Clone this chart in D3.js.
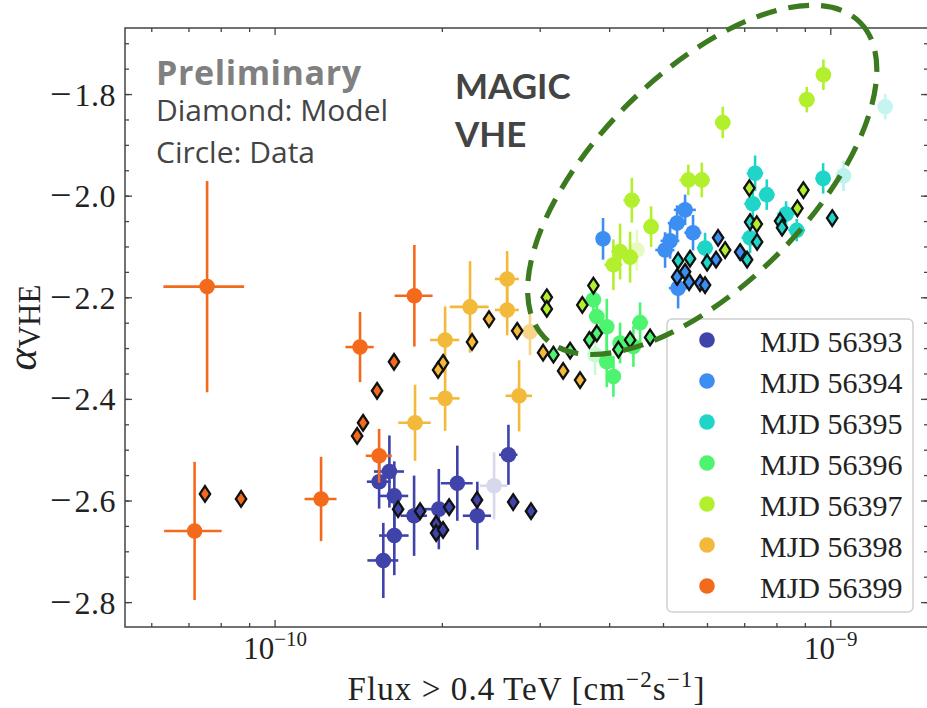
<!DOCTYPE html>
<html>
<head>
<meta charset="utf-8">
<script src="https://cdn.jsdelivr.net/npm/d3@7"></script>
<style>
  body { margin: 0; background: #fff; }
  svg { display: block; }
</style>
</head>
<body>
<svg id="chart" width="927" height="708"></svg>
<script>
// Flux values are given in units of 1e-10 cm^-2 s^-1
const FLUX_UNIT = 1e-10;

const days = ['MJD 56393', 'MJD 56394', 'MJD 56395', 'MJD 56396', 'MJD 56397', 'MJD 56398', 'MJD 56399'];
const dayColors = ['#3f43aa', '#3d8ef2', '#1fd5c8', '#4cf470', '#b2f02e', '#f3b93a', '#f46a1d'];

// Measured points: [flux, fluxErr, alpha, alphaErr, opacity]
const data56393 = [
  [2.63, 0.10, -2.509, 0.059], [2.128, 0.14, -2.565, 0.074], [2.478, 0.14, -2.570, 0.066, 0.2],
  [2.312, 0.135, -2.629, 0.067], [1.971, 0.115, -2.616, 0.079], [1.779, 0.097, -2.629, 0.079],
  [1.639, 0.097, -2.590, 0.068], [1.639, 0.10, -2.668, 0.078], [1.606, 0.10, -2.542, 0.071],
  [1.539, 0.076, -2.562, 0.053], [1.566, 0.10, -2.717, 0.074]
];
const data56394 = [
  [3.892, 0.10, -2.084, 0.041], [5.468, 0.25, -2.027, 0.03], [5.29, 0.2, -2.053, 0.035],
  [5.651, 0.2, -2.072, 0.035], [5.139, 0.2, -2.088, 0.035], [5.033, 0.2, -2.106, 0.035],
  [5.312, 0.2, -2.181, 0.04]
];
const data56395 = [
  [7.308, 0.25, -1.955, 0.035], [7.67, 0.25, -1.997, 0.03], [7.238, 0.25, -2.015, 0.03],
  [8.309, 0.3, -2.035, 0.025], [8.685, 0.3, -2.067, 0.022], [9.688, 0.3, -1.965, 0.03],
  [5.94, 0.2, -2.102, 0.03], [7.158, 0.25, -2.082, 0.03], [10.54, 0.3, -1.960, 0.03, 0.3],
  [12.53, 0.35, -1.824, 0.025, 0.25]
];
const data56396 = [
  [3.74, 0.12, -2.204, 0.03], [3.793, 0.12, -2.237, 0.04], [3.953, 0.12, -2.257, 0.055],
  [4.538, 0.15, -2.249, 0.04], [4.414, 0.15, -2.296, 0.04], [3.953, 0.12, -2.326, 0.05],
  [4.063, 0.12, -2.355, 0.04], [4.177, 0.12, -2.289, 0.04], [3.766, 0.12, -2.312, 0.04, 0.3]
];
const data56397 = [
  [9.699, 0.3, -1.761, 0.03], [9.054, 0.3, -1.810, 0.025], [6.392, 0.2, -1.855, 0.031],
  [5.542, 0.2, -1.968, 0.03], [5.86, 0.2, -1.968, 0.034], [4.385, 0.15, -2.008, 0.044],
  [4.75, 0.15, -2.060, 0.04], [4.177, 0.15, -2.109, 0.055], [4.063, 0.15, -2.135, 0.05],
  [4.354, 0.15, -2.120, 0.05], [4.477, 0.15, -2.106, 0.04, 0.3]
];
const data56398 = [
  [2.243, 0.18, -2.218, 0.09], [2.023, 0.122, -2.283, 0.066], [2.023, 0.125, -2.398, 0.064],
  [1.786, 0.12, -2.446, 0.075], [2.616, 0.13, -2.163, 0.055], [2.616, 0.13, -2.224, 0.05],
  [2.749, 0.15, -2.393, 0.07], [2.876, 0.08, -2.267, 0.046, 0.6]
];
const data56399 = [
  [0.7546, 0.125, -2.178, 0.208], [0.7165, 0.085, -2.659, 0.136], [1.21, 0.08, -2.596, 0.083],
  [1.422, 0.083, -2.297, 0.069], [1.781, 0.14, -2.196, 0.10], [1.539, 0.083, -2.511, 0.053]
];

// Model points: [flux, alpha]
const model56393 = [[1.665, -2.616], [1.824, -2.620], [1.949, -2.645], [1.949, -2.663], [2.006, -2.657],
  [2.057, -2.612], [2.309, -2.598], [2.682, -2.602], [2.888, -2.620]];
const model56394 = [[5.29, -2.159], [5.468, -2.149], [5.559, -2.169], [5.818, -2.171], [5.94, -2.175],
  [6.217, -2.125], [6.269, -2.082], [6.868, -2.110]];
const model56395 = [[5.312, -2.127], [5.582, -2.123], [5.99, -2.131], [7.07, -2.125], [7.158, -2.051],
  [7.369, -2.090], [8.105, -2.049], [8.172, -2.062], [10.06, -2.043]];
const model56396 = [[3.169, -2.312], [3.396, -2.304], [3.678, -2.283], [3.793, -2.270], [4.148, -2.302],
  [4.354, -2.283], [4.73, -2.278]];
const model56397 = [[3.74, -2.176], [3.572, -2.214], [3.083, -2.199], [3.083, -2.222], [6.454, -2.106],
  [7.136, -1.984], [8.928, -1.988], [8.708, -2.024], [7.359, -2.055]];
const model56398 = [[2.427, -2.242], [2.262, -2.287], [2.006, -2.328], [1.965, -2.342], [2.727, -2.265],
  [3.036, -2.308], [3.299, -2.344], [3.539, -2.362]];
const model56399 = [[0.748, -2.586], [0.8686, -2.596], [1.405, -2.472], [1.44, -2.446], [1.526, -2.383],
  [1.637, -2.326]];

const yTicks = [-2.8, -2.6, -2.4, -2.2, -2.0, -1.8];
const xMajorTicks = [1e-10, 1e-9];
const xDomain = [5.37e-11, 1.496e-9];
const yDomain = [-2.848, -1.669];

// Highlight ellipse: centre in data units
const ellipseCenter = [5.87, -1.968];

const dataSets = [data56393, data56394, data56395, data56396, data56397, data56398, data56399];
const modelSets = [model56393, model56394, model56395, model56396, model56397, model56398, model56399];

const series = days.map((name, i) => ({
  name, color: dayColors[i], data: dataSets[i], model: modelSets[i]
}));

// ---- layout ----
const svg = d3.select('#chart');
const plot = { left: 125, right: 928, top: 28, bottom: 627 };
const serif = '"Liberation Serif", "DejaVu Serif", serif';

const xScale = d3.scaleLog().domain(xDomain).range([plot.left, plot.right]);
const yScale = d3.scaleLinear().domain(yDomain).range([plot.bottom, plot.top]);

svg.append('defs').append('clipPath').attr('id', 'plot-clip')
  .append('rect')
  .attr('x', plot.left).attr('y', plot.top)
  .attr('width', plot.right - plot.left).attr('height', plot.bottom - plot.top);

// Minor ticks for log axis
let xMinorTicks = [];
[-11, -10, -9].forEach(e => {
  for (let m = 2; m <= 9; m++) {
    const v = m * Math.pow(10, e);
    if (v > xDomain[0] && v < xDomain[1]) xMinorTicks.push(v);
  }
});
let yMinorTicks = d3.range(-2.85, -1.65, 0.05).filter(v => v > yDomain[0] && v < yDomain[1]);

const tickGroup = svg.append('g').attr('class', 'ticks')
  .attr('stroke', '#444').attr('stroke-width', 1.3);

// Inward ticks on all four sides
const drawXTicks = (values, len) => {
  values.forEach(v => {
    const x = xScale(v);
    tickGroup.append('line').attr('x1', x).attr('x2', x).attr('y1', plot.bottom).attr('y2', plot.bottom - len);
    tickGroup.append('line').attr('x1', x).attr('x2', x).attr('y1', plot.top).attr('y2', plot.top + len);
  });
};
const drawYTicks = (values, len) => {
  values.forEach(v => {
    const y = yScale(v);
    tickGroup.append('line').attr('x1', plot.left).attr('x2', plot.left + len).attr('y1', y).attr('y2', y);
    tickGroup.append('line').attr('x1', plot.right).attr('x2', plot.right - len).attr('y1', y).attr('y2', y);
  });
};
drawXTicks(xMajorTicks, 7);
drawXTicks(xMinorTicks, 4);
drawYTicks(yTicks, 7);
drawYTicks(yMinorTicks, 4);

// Y tick labels: long math minus, then the magnitude
const fmt = d3.format('.1f');
const yLabels = svg.append('g').selectAll('text')
  .data(yTicks)
  .join('text')
  .attr('x', plot.left - 9)
  .attr('y', d => yScale(d) + 11)
  .attr('text-anchor', 'end')
  .attr('font-family', serif)
  .attr('font-size', 32)
  .attr('fill', '#222');
yLabels.append('tspan').attr('font-size', 38).attr('dy', 1).text(d => d < 0 ? '\u2212' : '');
yLabels.append('tspan').attr('dx', 3).attr('dy', -1).attr('letter-spacing', 0.5).text(d => fmt(Math.abs(d)));

// X tick labels (10^n)
const xLabels = svg.append('g').selectAll('text')
  .data(xMajorTicks)
  .join('text')
  .attr('x', d => xScale(d))
  .attr('y', 659)
  .attr('text-anchor', 'middle')
  .attr('font-family', serif)
  .attr('font-size', 31)
  .attr('fill', '#222');
xLabels.append('tspan').text('10');
xLabels.append('tspan').attr('font-size', 21).attr('dy', -13)
  .text(d => '\u2212' + Math.round(-Math.log10(d)));

// Axis titles
const xTitle = svg.append('text')
  .attr('x', (plot.left + plot.right) / 2)
  .attr('y', 700)
  .attr('text-anchor', 'middle')
  .attr('font-family', serif)
  .attr('font-size', 33)
  .attr('letter-spacing', 1.1)
  .attr('fill', '#222');
xTitle.append('tspan').text('Flux > 0.4\u2009TeV [cm');
xTitle.append('tspan').attr('font-size', 23).attr('dy', -13).text('\u22122');
xTitle.append('tspan').attr('dy', 13).text('s');
xTitle.append('tspan').attr('font-size', 23).attr('dy', -13).text('\u22121');
xTitle.append('tspan').attr('dy', 13).text(']');

const yTitle = svg.append('text')
  .attr('transform', `translate(36, ${(plot.top + plot.bottom) / 2}) rotate(-90)`)
  .attr('text-anchor', 'middle')
  .attr('font-family', serif)
  .attr('font-size', 42)
  .attr('fill', '#222');
yTitle.append('tspan').attr('font-style', 'italic').text('\u03b1');
yTitle.append('tspan').attr('font-size', 31).attr('dy', 4).text('VHE');

// ---- data marks ----
const content = svg.append('g').attr('clip-path', 'url(#plot-clip)');

// Step 1: measured points with error bars (bars under markers)
series.forEach(s => {
  const g = content.append('g').attr('class', 'data-group');
  const pts = s.data.map(d => ({
    x: d[0] * FLUX_UNIT, xe: d[1] * FLUX_UNIT, y: d[2], ye: d[3], op: d[4] === undefined ? 1 : d[4]
  }));

  const pg = g.selectAll('g.point')
    .data(pts)
    .join('g')
    .attr('class', 'point')
    .attr('opacity', d => d.op);

  pg.append('line')
    .attr('x1', d => xScale(d.x - d.xe)).attr('x2', d => xScale(d.x + d.xe))
    .attr('y1', d => yScale(d.y)).attr('y2', d => yScale(d.y))
    .attr('stroke', s.color).attr('stroke-width', 2.6);

  pg.append('line')
    .attr('x1', d => xScale(d.x)).attr('x2', d => xScale(d.x))
    .attr('y1', d => yScale(d.y - d.ye)).attr('y2', d => yScale(d.y + d.ye))
    .attr('stroke', s.color).attr('stroke-width', 2.6);

  pg.append('circle')
    .attr('cx', d => xScale(d.x))
    .attr('cy', d => yScale(d.y))
    .attr('r', 7.8)
    .attr('fill', s.color);
});

// Step 2: model points as thin diamonds with black edges
const diamondPath = 'M0,-7.8 L5.2,0 L0,7.8 L-5.2,0 Z';
series.forEach(s => {
  content.append('g').attr('class', 'model-group')
    .selectAll('path')
    .data(s.model)
    .join('path')
    .attr('d', diamondPath)
    .attr('transform', d => `translate(${xScale(d[0] * FLUX_UNIT)}, ${yScale(d[1])})`)
    .attr('fill', s.color)
    .attr('stroke', '#111')
    .attr('stroke-width', 2.3)
    .attr('stroke-linejoin', 'miter');
});

// Spines
svg.append('rect')
  .attr('x', plot.left).attr('y', plot.top)
  .attr('width', plot.right - plot.left).attr('height', plot.bottom - plot.top)
  .attr('fill', 'none').attr('stroke', '#444').attr('stroke-width', 1.5);

// ---- legend ----
const legend = svg.append('g').attr('class', 'legend');
legend.append('rect')
  .attr('x', 667).attr('y', 319).attr('width', 246).attr('height', 293).attr('rx', 5)
  .attr('fill', '#fff').attr('fill-opacity', 0.85)
  .attr('stroke', '#d0d0d0').attr('stroke-width', 1.5);

const items = legend.selectAll('g.item')
  .data(series)
  .join('g')
  .attr('class', 'item')
  .attr('transform', (d, i) => `translate(707, ${340 + i * 41})`);
items.append('circle').attr('r', 7.8).attr('fill', d => d.color);
items.append('text')
  .attr('x', 53).attr('y', 11.5)
  .attr('font-family', serif).attr('font-size', 30).attr('fill', '#222')
  .text(d => d.name);

// ---- annotations ----
svg.append('ellipse')
  .attr('transform', `translate(${xScale(ellipseCenter[0] * FLUX_UNIT)}, ${yScale(ellipseCenter[1])}) rotate(-45)`)
  .attr('rx', 223).attr('ry', 106)
  .attr('fill', 'none')
  .attr('stroke', '#3b7a1e').attr('stroke-width', 5.2)
  .attr('stroke-dasharray', '21,12');

const note = svg.append('g');
note.append('text').attr('x', 156).attr('y', 85)
  .attr('font-family', '"Open Sans", "Noto Sans", sans-serif')
  .attr('font-size', 34).attr('font-weight', 'bold').attr('letter-spacing', 0.6)
  .attr('fill', '#808080').text('Preliminary');
note.append('text').attr('x', 156).attr('y', 121)
  .attr('font-family', '"Open Sans", "Noto Sans", sans-serif')
  .attr('font-size', 30).attr('fill', '#444').text('Diamond: Model');
note.append('text').attr('x', 156).attr('y', 163)
  .attr('font-family', '"Open Sans", "Noto Sans", sans-serif')
  .attr('font-size', 30).attr('fill', '#444').text('Circle: Data');
note.append('text').attr('x', 455).attr('y', 99)
  .attr('font-family', 'Lato, sans-serif')
  .attr('font-size', 35).attr('font-weight', 'bold').attr('fill', '#444').text('MAGIC');
note.append('text').attr('x', 455).attr('y', 147)
  .attr('font-family', 'Lato, sans-serif')
  .attr('font-size', 35).attr('font-weight', 'bold').attr('fill', '#444').text('VHE');
</script>
</body>
</html>
